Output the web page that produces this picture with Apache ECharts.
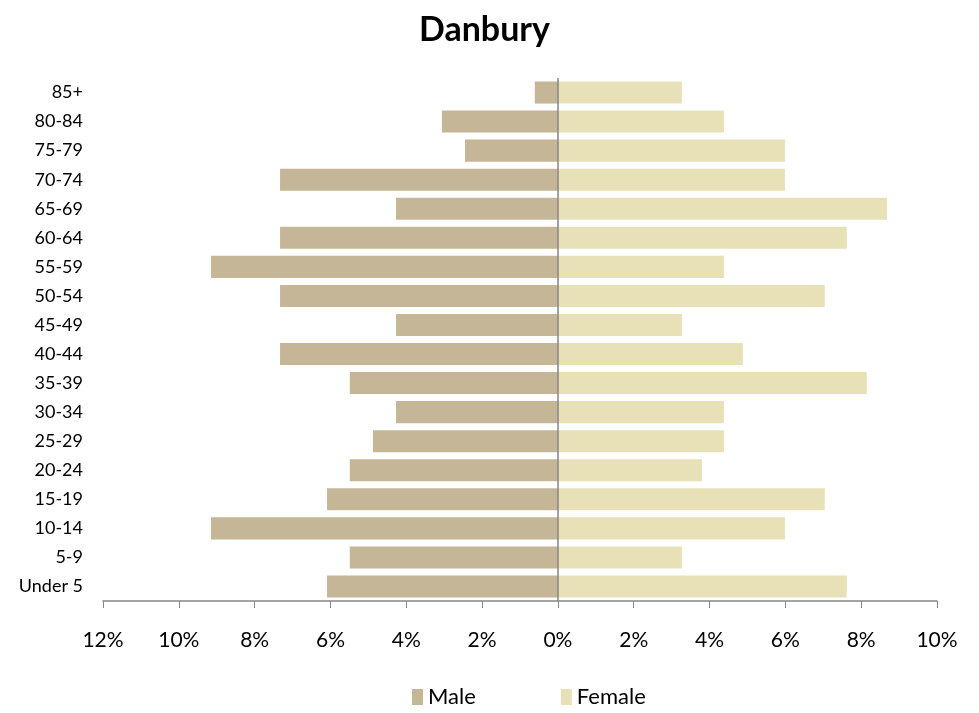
<!DOCTYPE html>
<html>
<head>
<meta charset="utf-8">
<script src="https://cdn.jsdelivr.net/npm/echarts@6/dist/echarts.min.js"></script>
<style>
  html, body { margin: 0; padding: 0; background: #fff; }
  #main { width: 979px; height: 713px; }
</style>
</head>
<body>
<div id="main"></div>
<script>
// age groups, bottom to top
let ageGroups = ['Under 5', '5-9', '10-14', '15-19', '20-24', '25-29', '30-34', '35-39', '40-44',
  '45-49', '50-54', '55-59', '60-64', '65-69', '70-74', '75-79', '80-84', '85+'];
// percent of population
let maleValues = [6.09, 5.49, 9.15, 6.09, 5.49, 4.88, 4.27, 5.49, 7.33,
  4.27, 7.33, 9.15, 7.33, 4.27, 7.33, 2.45, 3.06, 0.61];
let femaleValues = [7.62, 3.27, 5.99, 7.04, 3.80, 4.38, 4.38, 8.15, 4.88,
  3.27, 7.04, 4.38, 7.62, 8.68, 5.99, 5.99, 4.38, 3.27];

let chart = echarts.init(document.getElementById('main'));
const font = 'Lato, "Open Sans", sans-serif';

chart.setOption({
  animation: false,
  title: {
    text: 'Danbury',
    left: 414,
    top: 8,
    textStyle: { fontFamily: font, fontSize: 34, fontWeight: 'bold', color: '#000' }
  },
  legend: {
    bottom: 0,
    left: 407,
    itemWidth: 11,
    itemHeight: 16,
    itemGap: 85,
    icon: 'rect',
    textStyle: { fontFamily: font, fontSize: 22, color: '#000' },
    data: ['Male', 'Female']
  },
  grid: { left: 103, right: 42, top: 78, bottom: 112 },
  xAxis: {
    type: 'value',
    min: -12,
    max: 10,
    interval: 2,
    axisLine: { show: true, lineStyle: { color: '#868686', width: 1.5 } },
    axisTick: { show: true, length: 7, lineStyle: { color: '#868686' } },
    splitLine: { show: false },
    axisLabel: {
      margin: 29,
      fontFamily: font,
      fontSize: 21,
      color: '#000',
      formatter: v => Math.abs(v) + '%'
    }
  },
  yAxis: {
    type: 'category',
    data: ageGroups,
    axisLine: { show: false },
    axisTick: { show: false },
    axisLabel: { margin: 20, fontFamily: font, fontSize: 18, color: '#000' }
  },
  series: [
    {
      name: 'Male',
      type: 'bar',
      data: maleValues.map(v => -v),
      barGap: '-100%',
      barCategoryGap: '24%',
      itemStyle: { color: '#C4B696' },
      markLine: {
        silent: true,
        symbol: 'none',
        label: { show: false },
        lineStyle: { color: '#868686', type: 'solid', width: 1.5 },
        data: [{ xAxis: 0 }]
      }
    },
    {
      name: 'Female',
      type: 'bar',
      data: femaleValues,
      barCategoryGap: '24%',
      itemStyle: { color: '#E8E1B8' }
    }
  ]
});
</script>
</body>
</html>
